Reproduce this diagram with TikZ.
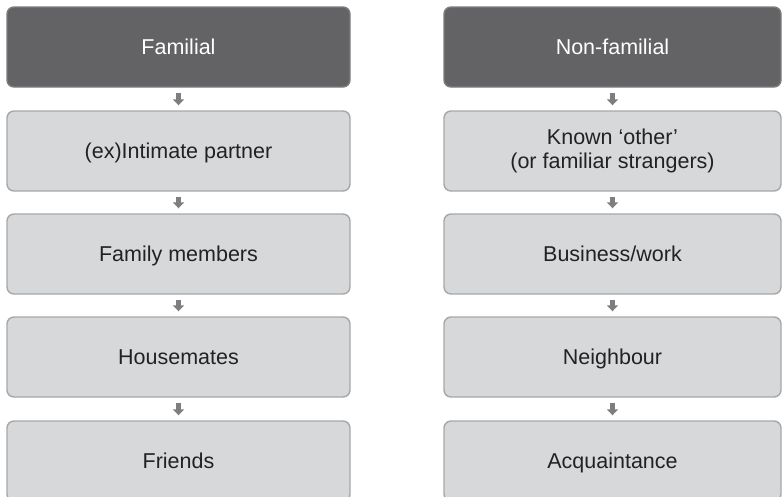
\documentclass[tikz,border=0pt]{standalone}
\usepackage{fontspec}
\setmainfont{Liberation Sans}
\usetikzlibrary{arrows.meta}

\definecolor{headfill}{HTML}{636365}
\definecolor{headline}{HTML}{7C7C7E}
\definecolor{itemfill}{HTML}{D7D8DA}
\definecolor{itemline}{HTML}{A6A7A9}
\definecolor{itemtext}{HTML}{222222}
\definecolor{linkgray}{HTML}{7E7E80}

\tikzset{
  box/.style={rectangle, rounded corners=7pt, line width=1.4pt,
    minimum height=80pt, inner sep=0pt, align=center,
    font=\fontsize{21.5}{24}\selectfont},
  oneline/.style={text height=15.4pt, text depth=0pt},
  leftcol/.style={minimum width=343pt},
  rightcol/.style={minimum width=337pt},
  headbox/.style={box, fill=headfill, draw=headline, text=white},
  itembox/.style={box, fill=itemfill, draw=itemline, text=itemtext},
  link/.style={draw=linkgray, line width=5pt, shorten <=5pt, shorten >=5pt,
    -{Triangle[width=11pt,length=6pt]}},
}

\begin{document}
\begin{tikzpicture}[x=1pt, y=-1pt]
  \useasboundingbox (0,0) rectangle (784,496);
  \clip (0,0) rectangle (784,496);

  % familial column
  \node[headbox, leftcol, oneline] (f0) at (178.5,47)  {Familial};
  \node[itembox, leftcol, oneline] (f1) at (178.5,151) {(ex)Intimate partner};
  \node[itembox, leftcol, oneline] (f2) at (178.5,254) {Family members};
  \node[itembox, leftcol, oneline] (f3) at (178.5,357) {Housemates};
  \node[itembox, leftcol, oneline] (f4) at (178.5,461) {Friends};

  % non-familial column
  \node[headbox, rightcol, oneline] (n0) at (612.5,47)  {Non-familial};
  \node[itembox, rightcol] (n1) at (612.5,151) {Known ‘other’\\(or familiar strangers)};
  \node[itembox, rightcol, oneline] (n2) at (612.5,254) {Business/work};
  \node[itembox, rightcol, oneline] (n3) at (612.5,357) {Neighbour};
  \node[itembox, rightcol, oneline] (n4) at (612.5,461) {Acquaintance};

  % downward links
  \foreach \a/\b in {f0/f1, f1/f2, f2/f3, f3/f4, n0/n1, n1/n2, n2/n3, n3/n4}
    \draw[link] (\a.south) -- (\b.north);
\end{tikzpicture}
\end{document}
